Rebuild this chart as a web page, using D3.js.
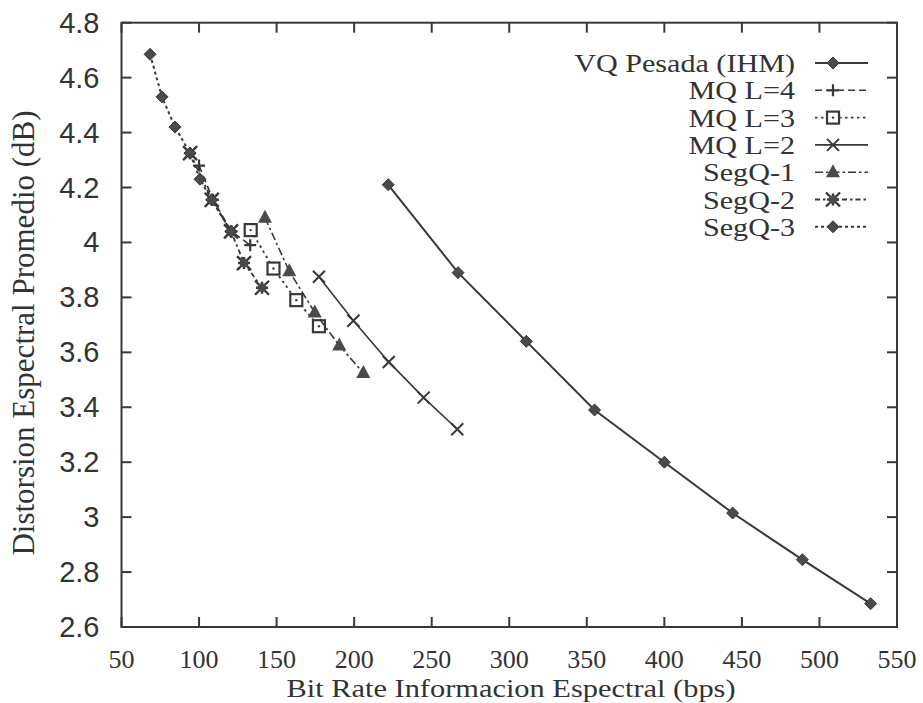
<!DOCTYPE html>
<html>
<head>
<meta charset="utf-8">
<script src="https://cdn.jsdelivr.net/npm/d3@7"></script>
<style>
  body { margin: 0; background: #fff; }
  text { fill: #333; }
</style>
</head>
<body>
<div id="chart"></div>
<script>
// axis ticks
var xTicks = [50, 100, 150, 200, 250, 300, 350, 400, 450, 500, 550];
var yTicks = [2.6, 2.8, 3, 3.2, 3.4, 3.6, 3.8, 4, 4.2, 4.4, 4.6, 4.8];

// series
var vqX   = [222, 267, 311, 355, 400, 444, 489, 533];
var vqY   = [4.21, 3.89, 3.64, 3.39, 3.2, 3.015, 2.845, 2.685];
var mq4X  = [100, 109, 121, 133];
var mq4Y  = [4.28, 4.155, 4.04, 3.99];
var mq3X  = [133.3, 148, 162.7, 177.3];
var mq3Y  = [4.045, 3.905, 3.79, 3.695];
var mq2X  = [177.3, 199.5, 222.3, 244.8, 266.5];
var mq2Y  = [3.875, 3.715, 3.565, 3.435, 3.32];
var seg1X = [142.5, 158.2, 174.6, 190.4, 205.9];
var seg1Y = [4.09, 3.895, 3.745, 3.625, 3.525];
var seg2X = [94.2, 108.2, 120.6, 129, 140.6];
var seg2Y = [4.325, 4.155, 4.04, 3.925, 3.835];
var seg3X = [68.4, 76.1, 84.5, 94.2, 100.6, 108.2, 120.6];
var seg3Y = [4.685, 4.53, 4.42, 4.325, 4.23, 4.155, 4.04];

var names = ["VQ Pesada (IHM)", "MQ L=4", "MQ L=3", "MQ L=2", "SegQ-1", "SegQ-2", "SegQ-3"];

var ink = "#383838";

var series = [
    { name: names[0], xs: vqX,   ys: vqY,   dash: null,        width: 2,   mark: "diamond" },
    { name: names[1], xs: mq4X,  ys: mq4Y,  dash: "7,4",       width: 1.6, mark: "plus" },
    { name: names[2], xs: mq3X,  ys: mq3Y,  dash: "2.5,3.5",   width: 1.8, mark: "square" },
    { name: names[3], xs: mq2X,  ys: mq2Y,  dash: null,        width: 1.6, mark: "x" },
    { name: names[4], xs: seg1X, ys: seg1Y, dash: "8,3,2.5,3", width: 1.6, mark: "triangle" },
    { name: names[5], xs: seg2X, ys: seg2Y, dash: "5,3,2.5,3", width: 1.8, mark: "star" },
    { name: names[6], xs: seg3X, ys: seg3Y, dash: "3,3",       width: 2,   mark: "diamond" }
];

var width = 923, height = 703;
var margin = { top: 22.7, right: 26, bottom: 76, left: 121.5 };

var svg = d3.select("#chart").append("svg")
    .attr("width", width)
    .attr("height", height);

var x = d3.scaleLinear().domain([50, 550]).range([margin.left, width - margin.right]);
var y = d3.scaleLinear().domain([2.6, 4.8]).range([height - margin.bottom, margin.top]);

// frame + inward ticks on every side
var gAx = svg.append("g").attr("stroke", ink).attr("stroke-width", 2).attr("fill", "none");
gAx.append("rect")
    .attr("x", x(50)).attr("y", y(4.8))
    .attr("width", x(550) - x(50)).attr("height", y(2.6) - y(4.8));

var tl = 10;
xTicks.forEach(function (t) {
    gAx.append("line").attr("x1", x(t)).attr("x2", x(t)).attr("y1", y(2.6)).attr("y2", y(2.6) - tl);
    gAx.append("line").attr("x1", x(t)).attr("x2", x(t)).attr("y1", y(4.8)).attr("y2", y(4.8) + tl);
});
yTicks.forEach(function (t) {
    gAx.append("line").attr("x1", x(50)).attr("x2", x(50) + tl).attr("y1", y(t)).attr("y2", y(t));
    gAx.append("line").attr("x1", x(550)).attr("x2", x(550) - tl).attr("y1", y(t)).attr("y2", y(t));
});

// tick labels
svg.append("g").selectAll("text")
    .data(xTicks).enter().append("text")
    .attr("x", function (d) { return x(d); })
    .attr("y", 668)
    .attr("text-anchor", "middle")
    .style("font-family", "'Liberation Serif', serif")
    .style("font-size", "26px")
    .text(function (d) { return d; });

svg.append("g").selectAll("text")
    .data(yTicks).enter().append("text")
    .attr("x", x(50) - 22)
    .attr("y", function (d) { return y(d) + 10; })
    .attr("text-anchor", "end")
    .style("font-family", "'Liberation Sans', sans-serif")
    .style("font-size", "29px")
    .text(function (d) { return d3.format("~g")(d); });

// axis titles
svg.append("text")
    .attr("transform", "translate(511,697) scale(1.17,1)")
    .attr("text-anchor", "middle")
    .style("font-family", "'Liberation Serif', serif")
    .style("font-size", "26px")
    .text("Bit Rate Informacion Espectral (bps)");

svg.append("text")
    .attr("transform", "translate(34,333) rotate(-90)")
    .attr("text-anchor", "middle")
    .style("font-family", "'Liberation Serif', serif")
    .style("font-size", "31px")
    .text("Distorsion Espectral Promedio (dB)");

// marker shapes
var drawMark = function (g, kind, cx, cy) {
    var m = g.append("g").attr("transform", "translate(" + cx + "," + cy + ")");
    if (kind === "diamond") {
        m.append("path").attr("d", "M0,-6L6,0L0,6L-6,0Z").attr("fill", "#4a4a4a").attr("stroke", ink).attr("stroke-width", 1);
    } else if (kind === "plus") {
        m.append("path").attr("d", "M-6,0H6M0,-6V6").attr("stroke", ink).attr("stroke-width", 2.2).attr("fill", "none");
    } else if (kind === "square") {
        m.append("rect").attr("x", -6).attr("y", -6).attr("width", 12).attr("height", 12)
            .attr("fill", "#fff").attr("stroke", ink).attr("stroke-width", 2.2);
        m.append("circle").attr("r", 1.2).attr("fill", ink);
    } else if (kind === "x") {
        m.append("path").attr("d", "M-6,-6L6,6M-6,6L6,-6").attr("stroke", ink).attr("stroke-width", 2).attr("fill", "none");
    } else if (kind === "triangle") {
        m.append("path").attr("d", "M0,-8L7,5L-7,5Z").attr("fill", "#4a4a4a");
    } else if (kind === "star") {
        m.append("path").attr("d", "M-7,-7L7,7M-7,7L7,-7M-6,0H6M0,-6V6").attr("stroke", ink).attr("stroke-width", 2.4).attr("fill", "none");
        m.append("rect").attr("x", -4).attr("y", -4).attr("width", 8).attr("height", 8).attr("fill", "#4a4a4a");
    }
};

var line = d3.line()
    .x(function (d) { return x(d[0]); })
    .y(function (d) { return y(d[1]); });

var plot = svg.append("g");
series.forEach(function (s) {
    var pts = s.xs.map(function (v, i) { return [v, s.ys[i]]; });
    plot.append("path")
        .datum(pts)
        .attr("d", line)
        .attr("fill", "none")
        .attr("stroke", ink)
        .attr("stroke-width", s.width)
        .attr("stroke-dasharray", s.dash);
    pts.forEach(function (p) { drawMark(plot, s.mark, x(p[0]), y(p[1])); });
});

// legend (text a little wider than the font, like the scanned original)
var lg = svg.append("g");
series.forEach(function (s, i) {
    var cy = 63 + i * 27.3;
    lg.append("text")
        .attr("transform", "translate(795," + (cy + 9) + ") scale(1.23,1)")
        .attr("text-anchor", "end")
        .style("font-family", "'Liberation Serif', serif")
        .style("font-size", "24.5px")
        .text(s.name);
    lg.append("line")
        .attr("x1", 815).attr("x2", 868).attr("y1", cy).attr("y2", cy)
        .attr("stroke", ink).attr("stroke-width", s.width)
        .attr("stroke-dasharray", s.dash);
    drawMark(lg, s.mark, 833, cy);
});
</script>
</body>
</html>
